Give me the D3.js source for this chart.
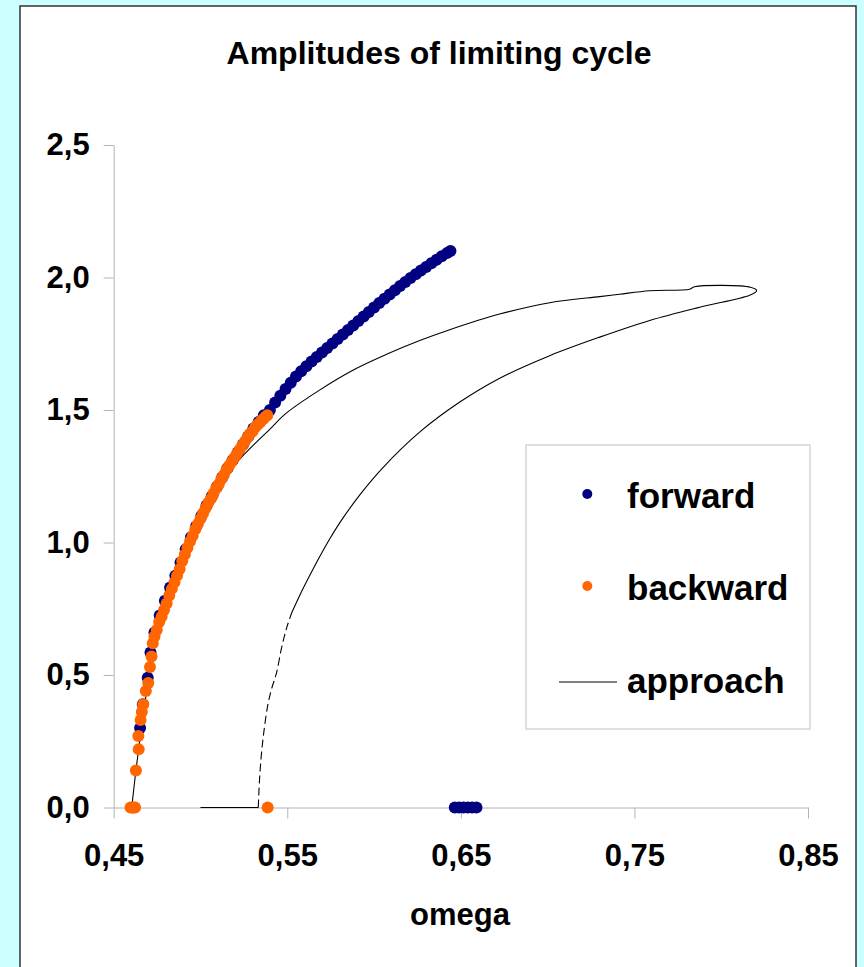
<!DOCTYPE html>
<html>
<head>
<meta charset="utf-8">
<script src="https://cdn.jsdelivr.net/npm/d3@7"></script>
<style>
  html, body { margin: 0; padding: 0; background: #ccffff; }
  svg { display: block; }
  text { font-family: "Liberation Sans", Arial, sans-serif; font-weight: bold; fill: #000; }
  .axis path, .axis line { stroke: #b4b4b4; }
  .axis text { font-size: 31px; }
</style>
</head>
<body>
<div id="chart"></div>
<script>
// --- Amplitudes of limiting cycle: forward / backward sweeps and the approach path ---

// [omega, amplitude] pairs
const forwardCurve = [
  [0.4652, 0.30], [0.4668, 0.39], [0.4696, 0.49], [0.4712, 0.585], [0.4735, 0.66],
  [0.4765, 0.725], [0.4795, 0.78], [0.4825, 0.83], [0.4855, 0.875], [0.4885, 0.925],
  [0.4915, 0.975], [0.4945, 1.02], [0.4975, 1.06], [0.5005, 1.10], [0.5035, 1.14],
  [0.5065, 1.175], [0.5095, 1.21], [0.5125, 1.245], [0.5155, 1.28], [0.5185, 1.31],
  [0.5215, 1.34], [0.5245, 1.37], [0.5275, 1.40], [0.5305, 1.43], [0.5335, 1.455],
  [0.5365, 1.48], [0.540, 1.500], [0.543, 1.528], [0.546, 1.554], [0.549, 1.579],
  [0.552, 1.603], [0.555, 1.626], [0.558, 1.646], [0.561, 1.665], [0.564, 1.683],
  [0.567, 1.700], [0.570, 1.717], [0.573, 1.734], [0.576, 1.751], [0.579, 1.768],
  [0.582, 1.785], [0.585, 1.802], [0.588, 1.819], [0.591, 1.836], [0.594, 1.853],
  [0.597, 1.870], [0.600, 1.887], [0.603, 1.904], [0.606, 1.920], [0.609, 1.936],
  [0.612, 1.952], [0.615, 1.968], [0.618, 1.983], [0.621, 1.998], [0.624, 2.012],
  [0.627, 2.026], [0.630, 2.040], [0.633, 2.054], [0.636, 2.067], [0.639, 2.080],
  [0.642, 2.092], [0.644, 2.100]
];
const forwardZero = [[0.6465, 0], [0.649, 0], [0.6515, 0], [0.654, 0], [0.6565, 0], [0.659, 0]];

const backwardZero = [[0.4597, 0], [0.4606, 0], [0.4615, 0], [0.4623, 0], [0.5387, 0]];
const backwardCurve = [
  [0.4628, 0.14], [0.4644, 0.22], [0.4642, 0.27], [0.4655, 0.33], [0.4662, 0.36],
  [0.4670, 0.39], [0.4685, 0.44], [0.4699, 0.47], [0.4709, 0.53], [0.4718, 0.57],
  [0.4725, 0.62], [0.4735, 0.645], [0.4748, 0.67], [0.4762, 0.70], [0.4776, 0.72],
  [0.4790, 0.745], [0.4805, 0.77], [0.4820, 0.80], [0.4835, 0.825], [0.4850, 0.85],
  [0.4865, 0.875], [0.4880, 0.90], [0.4895, 0.93], [0.4910, 0.955], [0.4925, 0.98],
  [0.4940, 1.005], [0.4955, 1.025], [0.4970, 1.05], [0.4985, 1.07], [0.5000, 1.09],
  [0.5015, 1.11], [0.5030, 1.13], [0.5045, 1.15], [0.5060, 1.165], [0.5075, 1.185],
  [0.5090, 1.205], [0.5105, 1.22], [0.5120, 1.24], [0.5135, 1.255], [0.5150, 1.275],
  [0.5165, 1.29], [0.5180, 1.305], [0.5195, 1.32], [0.5210, 1.335], [0.5225, 1.35],
  [0.5240, 1.365], [0.5255, 1.38], [0.5270, 1.395], [0.5285, 1.41], [0.5300, 1.42],
  [0.5315, 1.435], [0.5330, 1.445], [0.5345, 1.455], [0.5360, 1.465], [0.5375, 1.475],
  [0.5385, 1.48]
];

// approach path: flat start, steep (dashed-looking) rise, then the loop back to the curve
const approachFlat = [[0.500, 0], [0.5333, 0]];
const approachRise = [
  [0.5333, 0], [0.5337, 0.066], [0.5348, 0.179], [0.5365, 0.285], [0.5388, 0.387],
  [0.5411, 0.451], [0.5438, 0.508], [0.5467, 0.602], [0.5496, 0.677], [0.5525, 0.734]
];
const approachLoop = [
  [0.5525, 0.734], [0.5573, 0.802], [0.5630, 0.876], [0.5688, 0.948], [0.5746, 1.015],
  [0.5803, 1.075], [0.5918, 1.180], [0.6050, 1.282], [0.6269, 1.420], [0.6494, 1.530],
  [0.6724, 1.620], [0.7012, 1.705], [0.7300, 1.775], [0.7588, 1.838], [0.7876, 1.888],
  [0.8164, 1.933], [0.8204, 1.950], [0.8169, 1.963], [0.7846, 1.965], [0.7818, 1.956],
  [0.7588, 1.950], [0.7415, 1.937], [0.7300, 1.928], [0.7012, 1.905], [0.6724, 1.862],
  [0.6436, 1.803], [0.6263, 1.762], [0.6072, 1.710], [0.5878, 1.650], [0.5688, 1.576],
  [0.5496, 1.489], [0.5400, 1.428], [0.5208, 1.300], [0.5131, 1.22], [0.5054, 1.13],
  [0.4978, 1.04], [0.4901, 0.93], [0.4824, 0.80], [0.4776, 0.71], [0.4725, 0.60],
  [0.4699, 0.47], [0.4670, 0.36], [0.4644, 0.22], [0.4628, 0.14], [0.4604, 0]
];

const xTicks = [0.45, 0.55, 0.65, 0.75, 0.85];
const yTicks = [0, 0.5, 1.0, 1.5, 2.0, 2.5];

const W = 864, H = 967;
const svg = d3.select('#chart').append('svg').attr('width', W).attr('height', H);

// white chart panel
svg.append('rect')
  .attr('x', 20).attr('y', 6).attr('width', 836).attr('height', H + 10)
  .attr('fill', '#fff').attr('stroke', '#333').attr('stroke-width', 1.5);

const xScale = d3.scaleLinear().domain([0.45, 0.85]).range([113.7, 808]);
const yScale = d3.scaleLinear().domain([0, 2.5]).range([807.5, 145]);
const comma = f => v => d3.format(f)(v).replace('.', ',');

svg.append('g')
  .attr('class', 'axis')
  .attr('transform', `translate(0,${yScale(0)})`)
  .call(d3.axisBottom(xScale).tickValues(xTicks).tickFormat(comma('.2f'))
    .tickSize(11).tickSizeOuter(0).tickPadding(25));

svg.append('g')
  .attr('class', 'axis')
  .attr('transform', `translate(${xScale(0.45)},0)`)
  .call(d3.axisLeft(yScale).tickValues(yTicks).tickFormat(comma('.1f'))
    .tickSize(10).tickSizeOuter(0).tickPadding(14));

svg.selectAll('.axis .domain').attr('stroke', '#b4b4b4');

svg.append('text')
  .attr('x', 439).attr('y', 64)
  .attr('text-anchor', 'middle').attr('font-size', 32)
  .text('Amplitudes of limiting cycle');

svg.append('text')
  .attr('x', 460).attr('y', 925)
  .attr('text-anchor', 'middle').attr('font-size', 31)
  .text('omega');

const lineGen = d3.line()
  .x(d => xScale(d[0]))
  .y(d => yScale(d[1]));
const smoothGen = d3.line()
  .x(d => xScale(d[0]))
  .y(d => yScale(d[1]))
  .curve(d3.curveCatmullRom.alpha(0.5));

svg.append('path').datum(approachFlat)
  .attr('d', lineGen).attr('fill', 'none').attr('stroke', '#000').attr('stroke-width', 1.1);
svg.append('path').datum(approachRise)
  .attr('d', smoothGen).attr('fill', 'none').attr('stroke', '#000').attr('stroke-width', 1.1)
  .attr('stroke-dasharray', '8,4');
svg.append('path').datum(approachLoop)
  .attr('d', smoothGen).attr('fill', 'none').attr('stroke', '#000').attr('stroke-width', 1.1);

const dots = (data, color) => {
  svg.append('g').selectAll('circle')
    .data(data).join('circle')
    .attr('cx', d => xScale(d[0]))
    .attr('cy', d => yScale(d[1]))
    .attr('r', 6)
    .attr('fill', color);
};
dots(forwardCurve.concat(forwardZero), '#000080');
dots(backwardCurve.concat(backwardZero), '#ff6600');

// legend
const legend = svg.append('g');
legend.append('rect')
  .attr('x', 526).attr('y', 445).attr('width', 284).attr('height', 284)
  .attr('fill', '#fff').attr('stroke', '#c0c0c0').attr('stroke-width', 1);
legend.append('circle').attr('cx', 587.3).attr('cy', 494).attr('r', 5).attr('fill', '#000080');
legend.append('circle').attr('cx', 587.3).attr('cy', 586).attr('r', 5).attr('fill', '#ff6600');
legend.append('line')
  .attr('x1', 559).attr('x2', 617).attr('y1', 682).attr('y2', 682)
  .attr('stroke', '#000').attr('stroke-width', 1);
legend.append('text').attr('x', 627).attr('y', 508).attr('font-size', 35).text('forward');
legend.append('text').attr('x', 627).attr('y', 600).attr('font-size', 35).text('backward');
legend.append('text').attr('x', 627).attr('y', 693).attr('font-size', 35).text('approach');
</script>
</body>
</html>
